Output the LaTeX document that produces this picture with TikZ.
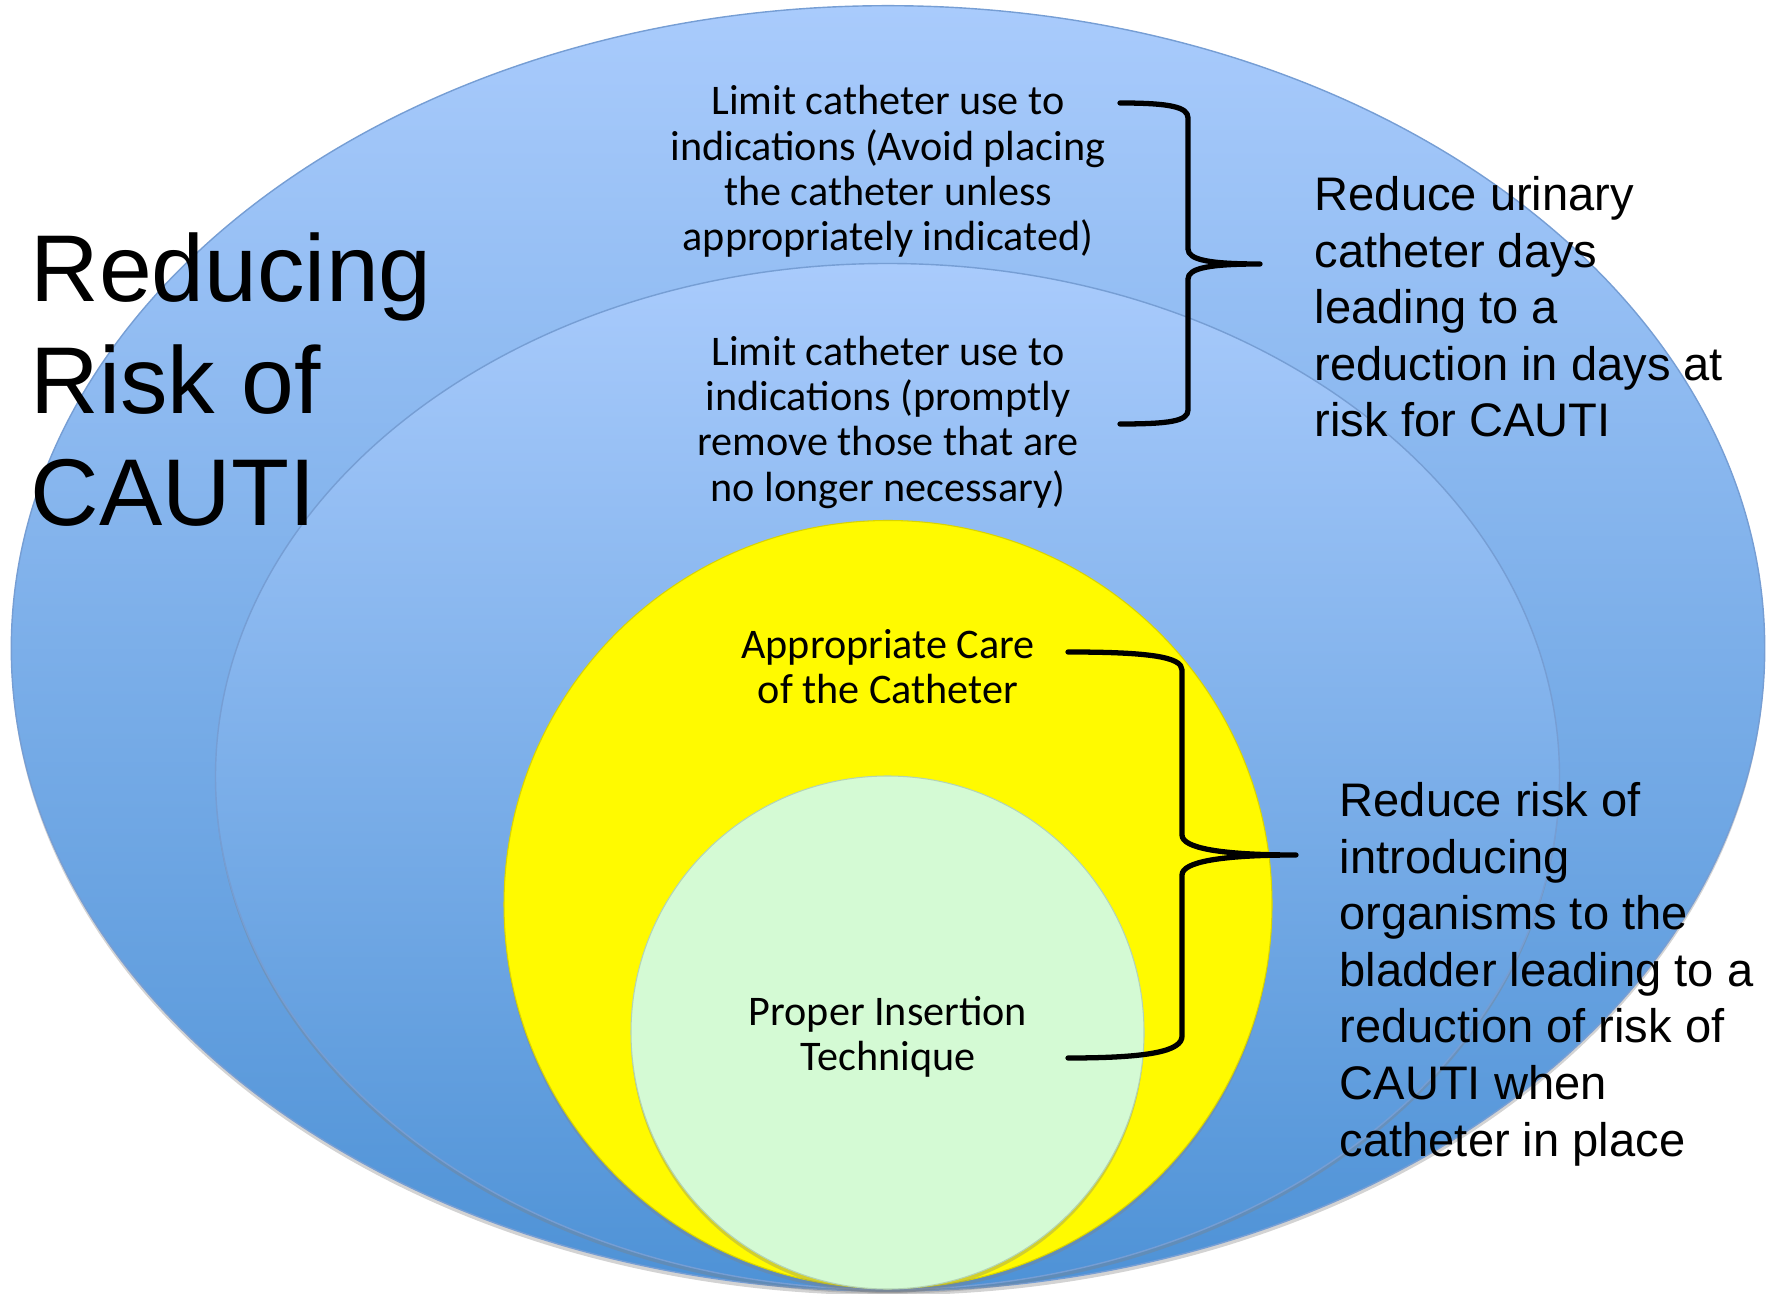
\documentclass[tikz,border=0pt]{standalone}
\usepackage{fontspec}
\setmainfont{Carlito}
\newfontfamily\arialfont{Liberation Sans}
\usepackage{tikz}
\usetikzlibrary{shadows}

\definecolor{skytop}{RGB}{169,203,252}
\definecolor{skybot}{RGB}{78,146,214}
\definecolor{rimblue}{RGB}{118,158,212}
\definecolor{careyellow}{RGB}{255,250,0}
\definecolor{insertgreen}{RGB}{212,250,212}

\begin{document}
\begin{tikzpicture}[
  ring/.style={draw=rimblue,line width=0.4pt,top color=skytop,bottom color=skybot,
    drop shadow={shadow xshift=0pt,shadow yshift=-1.2pt,opacity=0.35}},
  disc/.style={draw=#1!85!black,line width=0.3pt,fill=#1,
    drop shadow={shadow xshift=0pt,shadow yshift=-1.2pt,opacity=0.35}},
  lbl/.style={align=center,font=\fontsize{12}{12.9}\selectfont},
  note/.style={align=left,anchor=north west,inner sep=0pt,font=\arialfont\fontsize{13.4}{16.1}\selectfont},
  brace/.style={line width=1.5pt,line cap=round,line join=round}]
\useasboundingbox (0,0) rectangle (17.76,12.93);

% nested rings
\path[ring] (8.88,6.446) ellipse [x radius=8.767, y radius=6.427];
\path[ring] (8.875,5.165) ellipse [x radius=6.72, y radius=5.13];
\path[disc=careyellow] (8.88,3.885) circle [radius=3.84];
\path[disc=insertgreen] (8.875,2.605) circle [radius=2.565];

\node[anchor=north west,inner sep=0pt,align=left,font=\arialfont\fontsize{27}{31.9}\selectfont] (title) at (0.30,10.61) {Reducing\\Risk of\\CAUTI};

\node[lbl] (avoid) at (8.88,11.215) {Limit catheter use to\\indications (Avoid placing\\the catheter unless\\appropriately indicated)};
\node[lbl] (remove) at (8.88,8.71) {Limit catheter use to\\indications (promptly\\remove those that are\\no longer necessary)};
\node[lbl] (care) at (8.88,6.265) {Appropriate Care\\of the Catheter};
\node[lbl] (insert) at (8.88,2.565) {Proper Insertion\\Technique};

% braces
\draw[brace] (11.20,11.90) .. controls (11.70,11.90) and (11.88,11.86) .. (11.88,11.75)
  -- (11.88,10.44) .. controls (11.88,10.33) and (12.10,10.29) .. (12.60,10.29)
  .. controls (12.10,10.29) and (11.88,10.25) .. (11.88,10.14)
  -- (11.88,8.83) .. controls (11.88,8.72) and (11.70,8.69) .. (11.20,8.69);
\draw[brace] (10.68,6.41) .. controls (11.50,6.41) and (11.82,6.36) .. (11.82,6.23)
  -- (11.82,4.58) .. controls (11.82,4.45) and (12.20,4.38) .. (12.96,4.38)
  .. controls (12.20,4.38) and (11.82,4.31) .. (11.82,4.18)
  -- (11.82,2.57) .. controls (11.82,2.42) and (11.50,2.35) .. (10.68,2.35);

\node[note] (days) at (13.14,11.172) {Reduce urinary\\catheter days\\leading to a\\reduction in days at\\risk for CAUTI};
\node[note] (organisms) at (13.39,5.112) {Reduce risk of\\introducing\\organisms to the\\bladder leading to a\\reduction of risk of\\CAUTI when\\catheter in place};
\end{tikzpicture}
\end{document}
